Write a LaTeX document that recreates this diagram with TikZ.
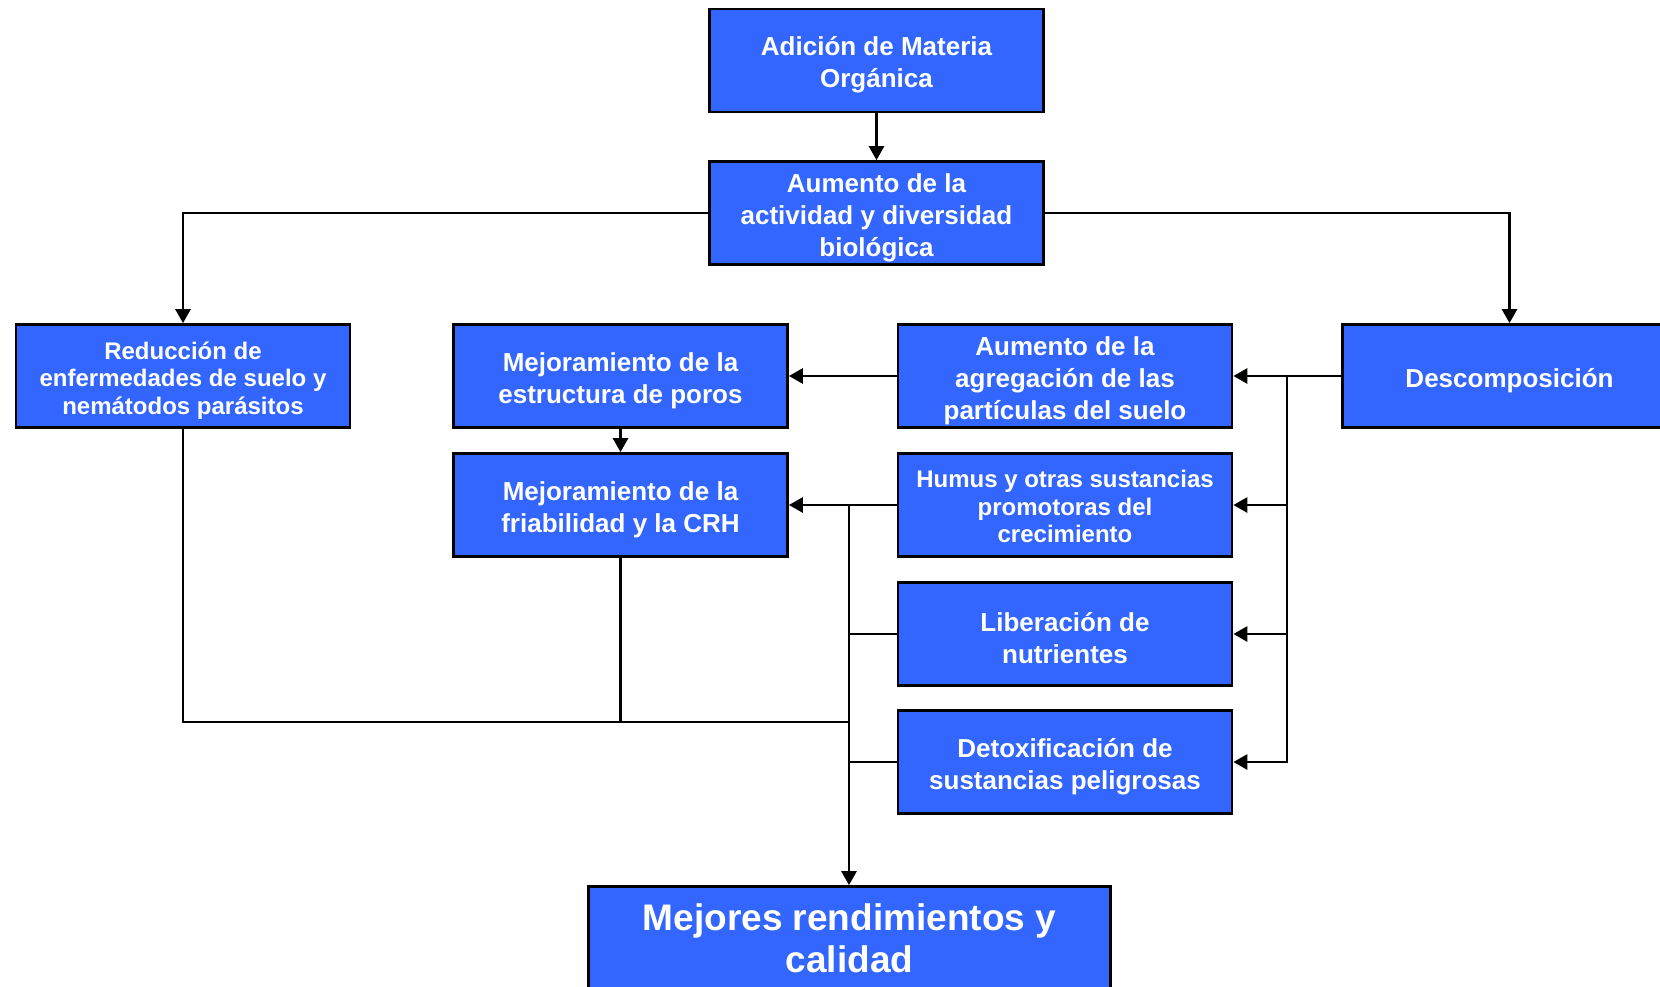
\documentclass[tikz,border=0pt]{standalone}
\usepackage{fontspec}
\setmainfont{Liberation Sans}
\usetikzlibrary{arrows.meta}
\definecolor{boxblue}{RGB}{51,102,255}
\newcommand\boxlift[1][28pt]{\rule{0pt}{#1}}
\tikzset{
  box/.style={draw=black, line width=2.7pt, fill=boxblue, text=white, align=center,
    inner sep=0pt, minimum width=334pt, minimum height=103pt,
    font=\fontsize{26}{32}\selectfont\bfseries},
  smallbox/.style={box, font=\fontsize{24}{27.5}\selectfont\bfseries},
  bigbox/.style={box, minimum width=522pt, font=\fontsize{37}{42}\selectfont\bfseries},
  conn/.style={draw=black, line width=2.7pt},
  arr/.style={conn, -{Triangle[length=14pt,width=15pt]}}
}
\begin{document}
\begin{tikzpicture}[x=1pt,y=-1pt]
\clip (0,0) rectangle (1660,987);
\fill[white] (0,0) rectangle (1660,987);
\node[box] (top) at (876.5,60.5) {\boxlift Adición de Materia\\Orgánica};
\node[box] (sec) at (876.5,213) {\boxlift Aumento de la\\actividad y diversidad\\biológica};
\node[smallbox] (red) at (183,376) {\boxlift[26pt]Reducción de\\enfermedades de suelo y\\nemátodos parásitos};
\node[box] (est) at (620.5,376) {\boxlift Mejoramiento de la\\estructura de poros};
\node[box] (agr) at (1065,376) {\boxlift Aumento de la\\agregación de las\\partículas del suelo};
\node[box] (desc) at (1509.5,376) {\boxlift Descomposición};
\node[box] (fri) at (620.5,505) {\boxlift Mejoramiento de la\\friabilidad y la CRH};
\node[smallbox] (hum) at (1065,505) {\boxlift[21pt]Humus y otras sustancias\\promotoras del\\crecimiento};
\node[box] (lib) at (1065,634) {\boxlift Liberación de\\nutrientes};
\node[box] (det) at (1065,762) {\boxlift Detoxificación de\\sustancias peligrosas};
\node[bigbox] (bot) at (849.5,938) {Mejores rendimientos y\\calidad};
\coordinate (jr) at (1287,376);
\coordinate (jl) at (849,505);
\coordinate (jm) at (849,722);
\draw[arr] (top) -- (sec);
\draw[arr] (sec.west) -| (red.north);
\draw[arr] (sec.east) -| (desc.north);
\draw[arr] (desc.west) -- (agr.east);
\draw[arr] (jr) |- (hum.east);
\draw[arr] (jr) |- (lib.east);
\draw[arr] (jr) |- (det.east);
\draw[arr] (agr.west) -- (est.east);
\draw[arr] (est.south) -- (fri.north);
\draw[arr] (hum.west) -- (fri.east);
\draw[conn] (lib.west) -- (lib.west -| jl);
\draw[conn] (det.west) -- (det.west -| jl);
\draw[conn] (red.south) |- (jm);
\draw[conn] (fri.south) -- (fri.south |- jm);
\draw[arr] (jl) -- (jl |- bot.north);
\end{tikzpicture}
\end{document}
